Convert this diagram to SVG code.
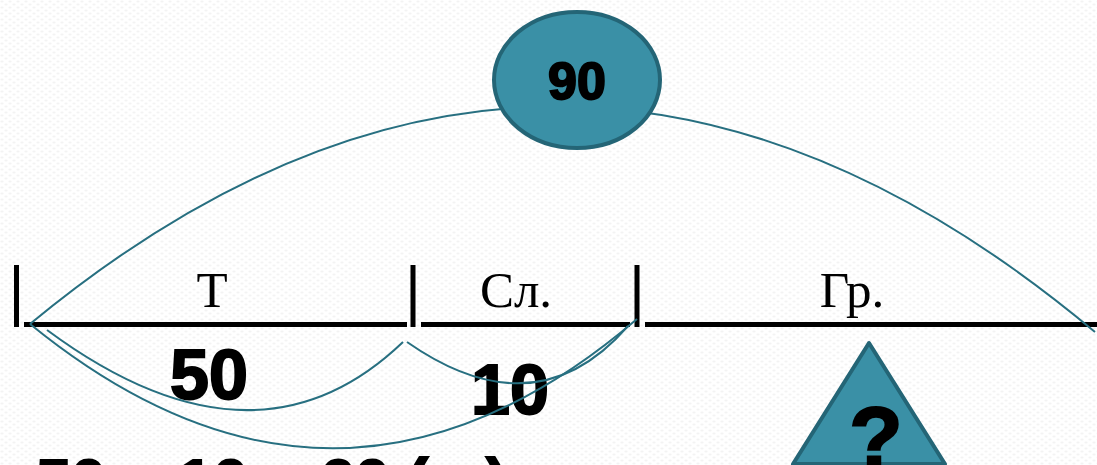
<svg xmlns="http://www.w3.org/2000/svg" width="1097" height="465" viewBox="0 0 1097 465">
<defs>
<pattern id="bg" width="8" height="6" patternUnits="userSpaceOnUse">
<rect width="8" height="6" fill="#ffffff"/>
<ellipse cx="2" cy="1.5" rx="1.6" ry="1" fill="#f3f3f3"/>
<ellipse cx="6" cy="4.5" rx="1.6" ry="1" fill="#f3f3f3"/>
</pattern>
</defs>
<style>
.seg{stroke:#000;stroke-width:5;fill:none}
.tick{stroke:#000;stroke-width:5;fill:none}
.arc{stroke:#276f80;stroke-width:2;fill:none}
.lbl{font-family:"Liberation Serif","Times New Roman",serif;font-size:51px;fill:#000;text-anchor:middle}
.num{font-family:"Liberation Sans",Arial,sans-serif;font-weight:bold;fill:#000;stroke:#000;stroke-width:2;text-anchor:middle}
.shape{fill:#3a90a6;stroke:#246576;stroke-width:4}
</style>
<rect width="1097" height="465" fill="url(#bg)"/>

<g id="scale">
<line class="seg" x1="24" y1="324.5" x2="407" y2="324.5"/>
<line class="seg" x1="421" y1="324.5" x2="630" y2="324.5"/>
<line class="seg" x1="645" y1="324.5" x2="1097" y2="324.5"/>
<line class="tick" x1="16.5" y1="265" x2="16.5" y2="327"/>
<line class="tick" x1="413" y1="265" x2="413" y2="327"/>
<line class="tick" x1="637" y1="265" x2="637" y2="327"/>
</g>

<g id="label-t"><text class="lbl" x="212" y="307">Т</text></g>
<g id="label-sl"><text class="lbl" x="516" y="307">Сл.</text></g>
<g id="label-gr"><text class="lbl" x="852" y="307">Гр.</text></g>

<g id="value-50"><text class="num" x="209" y="399" font-size="70">50</text></g>
<g id="value-10"><text class="num" x="510" y="414" font-size="70">10</text></g>
<g id="equation"><text class="num" x="36" y="503" font-size="63" style="text-anchor:start">50 + 10 = 60 (кг)</text></g>

<g id="connectors">
<path class="arc" d="M30,324 Q561,-115 1095,332"/>
<path class="arc" d="M47,330 Q255,484 403,342"/>
<path class="arc" d="M407,342 Q536,432 628,326"/>
<path class="arc" d="M30,324 Q338,575 637,319"/>
</g>

<g id="node-total">
<ellipse class="shape" cx="577" cy="80" rx="83" ry="68"/>
<text class="num" x="577" y="99" font-size="52">90</text>
</g>

<g id="node-unknown">
<polygon class="shape" points="869,343 793,464 945,464" stroke-linejoin="round"/>
<text class="num" x="876" y="468" font-size="88">?</text>
</g>
</svg>
